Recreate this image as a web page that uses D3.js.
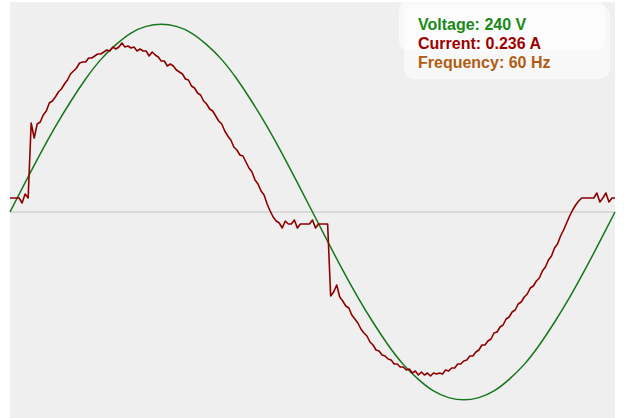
<!DOCTYPE html>
<html>
<head>
<meta charset="utf-8">
<script src="https://cdn.jsdelivr.net/npm/d3@7"></script>
<style>
  html, body { margin: 0; padding: 0; background: #ffffff; }
  svg { display: block; }
</style>
</head>
<body>
<svg id="chart" width="624" height="418"></svg>
<script>
// ---- Data ----
const periodMs = 1000 / 60;            // one 60 Hz cycle
// Voltage samples (V), 41 evenly spaced samples across one cycle
const voltageValues = [0, 53, 105, 154, 199, 240, 275, 302, 323, 335, 339, 335, 323, 302, 275, 240, 199, 154, 105, 53,
  0, -53, -105, -154, -199, -240, -275, -302, -323, -335, -339, -335, -323, -302, -275, -240, -199, -154, -105, -53, 0];
// Current samples (mA), 201 evenly spaced samples across one cycle
const currentValues = [28, 28, 28, 28, 18, 36, 28, 178, 148, 176,
  180, 194, 202, 218, 222, 230, 240, 246, 256, 264,
  276, 282, 288, 298, 300, 300, 308, 308, 312, 316,
  316, 320, 324, 322, 330, 326, 330, 338, 330, 332,
  328, 330, 322, 326, 322, 322, 312, 320, 314, 310,
  302, 302, 292, 296, 292, 284, 280, 276, 266, 264,
  252, 248, 238, 234, 222, 216, 206, 202, 192, 182,
  176, 162, 152, 144, 130, 124, 114, 112, 100, 88,
  80, 64, 56, 42, 34, 16, 2, -10, -18, -22,
  -32, -18, -24, -24, -16, -32, -24, -24, -24, -24,
  -16, -32, -24, -24, -24, -24, -168, -160, -146, -170,
  -178, -188, -192, -206, -214, -222, -234, -242, -248, -260,
  -266, -276, -278, -286, -288, -294, -296, -304, -304, -310,
  -310, -316, -314, -322, -318, -326, -320, -326, -322, -328,
  -322, -324, -322, -324, -316, -318, -312, -312, -304, -304,
  -298, -296, -288, -288, -280, -276, -266, -266, -258, -254,
  -242, -240, -230, -226, -214, -210, -200, -196, -184, -180,
  -170, -164, -152, -148, -138, -132, -118, -110, -96, -88,
  -72, -64, -48, -36, -22, -8, 4, 14, 22, 28,
  28, 28, 28, 28, 38, 20, 28, 38, 20, 28, 28];
const legendLabels = ["Voltage: 240 V", "Current: 0.236 A", "Frequency: 60 Hz"];
const legendColors = ["#178a17", "#a00000", "#b25c12"];

// ---- Scales ----
const svg = d3.select("#chart");
const x = d3.scaleLinear().domain([0, periodMs]).range([10, 615]);
const yV = d3.scaleLinear().domain([-379, 379]).range([422, 2]);
const yI = d3.scaleLinear().domain([-420, 420]).range([422, 2]);

// background
svg.append("rect").attr("x", 10).attr("y", 2).attr("width", 605).attr("height", 416).attr("fill", "#efefef");

// zero line
svg.append("line")
  .attr("x1", 10).attr("x2", 615)
  .attr("y1", yV(0)).attr("y2", yV(0))
  .attr("stroke", "#d2d2d2").attr("stroke-width", 1.5);

// voltage
const vData = voltageValues.map((v, i) => ({ t: i * periodMs / (voltageValues.length - 1), v }));
svg.append("path")
  .datum(vData)
  .attr("fill", "none")
  .attr("stroke", "#16761a")
  .attr("stroke-width", 1.5)
  .attr("d", d3.line().x(d => x(d.t)).y(d => yV(d.v)).curve(d3.curveNatural));

// current
const iData = currentValues.map((v, i) => ({ t: i * periodMs / (currentValues.length - 1), v }));
svg.append("path")
  .datum(iData)
  .attr("fill", "none")
  .attr("stroke", "#8e0000")
  .attr("stroke-width", 1.6)
  .attr("stroke-linejoin", "round")
  .attr("d", d3.line().x(d => x(d.t)).y(d => yI(d.v)));

// legend boxes
svg.append("rect").attr("x", 404).attr("y", 5).attr("width", 206).attr("height", 74).attr("rx", 10)
  .attr("fill", "#ffffff").attr("fill-opacity", 0.55);
svg.append("rect").attr("x", 399).attr("y", 0).attr("width", 206).attr("height", 51).attr("rx", 10)
  .attr("fill", "#ffffff").attr("fill-opacity", 0.55);

const lg = svg.append("g").attr("font-family", "'Liberation Sans', Arial, sans-serif")
  .attr("font-weight", "bold").attr("font-size", "16px");
lg.selectAll("text").data(legendLabels).join("text")
  .attr("x", 418)
  .attr("y", (d, i) => 30 + i * 19)
  .attr("fill", (d, i) => legendColors[i])
  .text(d => d);
</script>
</body>
</html>
